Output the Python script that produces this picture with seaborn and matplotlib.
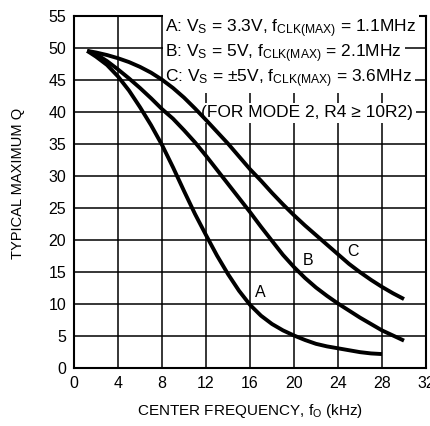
import matplotlib
matplotlib.use("Agg")
import matplotlib.pyplot as plt
import seaborn as sns
import pandas as pd

# ---- data ----
freq_A = [1.2, 2, 3, 4, 5, 6, 7, 8, 9, 10, 11, 12, 13, 14, 15, 16, 17, 18, 19, 20,
          21, 22, 23, 24, 25, 26, 27, 28]
q_A = [49.5, 48.6, 47.3, 45.5, 43.3, 40.7, 37.9, 34.8, 31.3, 27.6, 24.0, 20.7, 17.5, 14.6,
       12.0, 9.8, 8.1, 6.8, 5.8, 5.0, 4.3, 3.7, 3.3, 3.0, 2.7, 2.4, 2.2, 2.1]
freq_B = [1.2, 2, 3, 4, 5, 6, 7, 8, 9, 10, 11, 12, 13, 14, 15, 16, 17, 18, 19, 20,
          21, 22, 23, 24, 25, 26, 27, 28, 29, 30]
q_B = [49.5, 49.0, 47.9, 46.6, 45.2, 43.7, 42.1, 40.4, 38.9, 37.1, 35.2, 33.1, 30.9, 28.7,
       26.5, 24.3, 22.0, 19.8, 17.6, 15.7, 14.0, 12.5, 11.2, 10.0, 8.9, 7.8, 6.8, 5.8, 5.0, 4.2]
freq_C = [1.2, 2, 3, 4, 5, 6, 7, 8, 9, 10, 11, 12, 13, 14, 15, 16, 17, 18, 19, 20,
          21, 22, 23, 24, 25, 26, 27, 28, 29, 30]
q_C = [49.5, 49.25, 48.85, 48.35, 47.75, 47.0, 46.1, 45.0, 43.7, 42.2, 40.5, 38.7, 36.85, 35.0,
       33.0, 31.0, 29.2, 27.3, 25.5, 23.8, 22.2, 20.7, 19.2, 17.7, 16.2, 14.9, 13.7, 12.6, 11.6, 10.7]

x_ticks = [0, 4, 8, 12, 16, 20, 24, 28, 32]
y_ticks = [0, 5, 10, 15, 20, 25, 30, 35, 40, 45, 50, 55]

legend_lines = [
    r"A: V$\mathregular{_S}$ = 3.3V, f$\mathregular{_{CLK(MAX)}}$ = 1.1MHz",
    r"B: V$\mathregular{_S}$ = 5V, f$\mathregular{_{CLK(MAX)}}$ = 2.1MHz",
    r"C: V$\mathregular{_S}$ = ±5V, f$\mathregular{_{CLK(MAX)}}$ = 3.6MHz",
]
note_line = "(FOR MODE 2, R4 ≥ 10R2)"
curve_labels = ["A", "B", "C"]
label_pos_f = [16.9, 21.3, 25.4]
label_pos_q = [11.7, 16.8, 18.1]

df = pd.concat([
    pd.DataFrame({"f": freq_A, "q": q_A, "curve": "A"}),
    pd.DataFrame({"f": freq_B, "q": q_B, "curve": "B"}),
    pd.DataFrame({"f": freq_C, "q": q_C, "curve": "C"}),
])

sns.set_style("white")
plt.rcParams["font.family"] = ["Liberation Sans", "DejaVu Sans"]
plt.rcParams["mathtext.default"] = "regular"
plt.rcParams["text.color"] = "black"
plt.rcParams["axes.labelcolor"] = "black"
plt.rcParams["xtick.color"] = "black"
plt.rcParams["ytick.color"] = "black"

fig = plt.figure(figsize=(4.31, 4.26), dpi=100)
ax = fig.add_axes([74 / 431, 1 - 367.5 / 426, 352 / 431, 351.8 / 426])

sns.lineplot(data=df, x="f", y="q", hue="curve", palette=["black"] * 3,
             linewidth=2.8, legend=False, ax=ax, zorder=4, sort=True,
             solid_capstyle="butt")

ax.set_xlim(0, 32)
ax.set_ylim(0, 55)
ax.set_xticks(x_ticks)
ax.set_yticks(y_ticks)
ax.grid(True, color="black", linewidth=1.1)
ax.set_axisbelow(True)
for s in ax.spines.values():
    s.set_color("black")
    s.set_linewidth(1.5)
ax.tick_params(length=0, labelsize=11.5, colors="black")
ax.tick_params(axis="y", pad=5.5)
ax.tick_params(axis="x", pad=6)

ax.set_xlabel("CENTER FREQUENCY, f$\mathregular{_O}$ (kHz)", fontsize=11, color="black")
ax.xaxis.set_label_coords(0.5, -0.098)
ax.set_ylabel("TYPICAL MAXIMUM Q", fontsize=10.5, color="black")
ax.yaxis.set_label_coords(-0.139, 0.523)

ys = [53.0, 49.0, 45.1]
for t, y in zip(legend_lines, ys):
    ax.text(8.3, y, t, fontsize=12.5, ha="left", va="center", zorder=3, color="black",
            bbox=dict(facecolor="white", edgecolor="none", pad=2.0))
ax.text(30.8, 39.8, note_line, fontsize=12.5, ha="right", va="center", zorder=3, color="black",
        bbox=dict(facecolor="white", edgecolor="none", pad=2.0))

for lab, fx, qy in zip(curve_labels, label_pos_f, label_pos_q):
    ax.text(fx, qy, lab, fontsize=11.5, ha="center", va="center", zorder=5, color="black")

fig.savefig("out.png", dpi=100)
